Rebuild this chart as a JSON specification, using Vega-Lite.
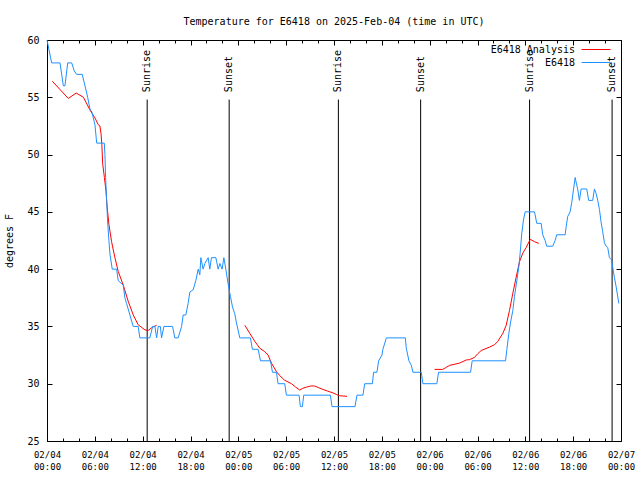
{
  "$schema": "https://vega.github.io/schema/vega-lite/v6.json",
  "width": 574,
  "height": 401,
  "autosize": "none",
  "padding": {"left": 47, "top": 40, "right": 19, "bottom": 39},
  "background": "white",
  "title": {"text": "Temperature for E6418 on 2025-Feb-04 (time in UTC)", "font": "DejaVu Sans Mono", "fontSize": 10, "fontWeight": "normal", "color": "black", "anchor": "middle", "frame": "group", "offset": 8},
  "datasets": {
    "blue": [
      {"t":"2025-02-04T00:00:00Z","v":60},{"t":"2025-02-04T00:35:00Z","v":58},{"t":"2025-02-04T01:38:00Z","v":58},{"t":"2025-02-04T02:03:00Z","v":56},{"t":"2025-02-04T02:15:00Z","v":56},{"t":"2025-02-04T02:36:00Z","v":58},{"t":"2025-02-04T03:06:00Z","v":58},{"t":"2025-02-04T03:25:00Z","v":57.3},{"t":"2025-02-04T03:43:00Z","v":57},{"t":"2025-02-04T04:25:00Z","v":57},{"t":"2025-02-04T04:46:00Z","v":56},{"t":"2025-02-04T05:06:00Z","v":55},{"t":"2025-02-04T05:23:00Z","v":54},{"t":"2025-02-04T05:38:00Z","v":53.7},{"t":"2025-02-04T06:01:00Z","v":52.6},{"t":"2025-02-04T06:14:00Z","v":51},{"t":"2025-02-04T07:11:00Z","v":51},{"t":"2025-02-04T07:16:00Z","v":50},{"t":"2025-02-04T07:21:00Z","v":48},{"t":"2025-02-04T07:29:00Z","v":46},{"t":"2025-02-04T07:36:00Z","v":44.2},{"t":"2025-02-04T07:46:00Z","v":42.5},{"t":"2025-02-04T07:54:00Z","v":41.3},{"t":"2025-02-04T08:11:00Z","v":40},{"t":"2025-02-04T08:44:00Z","v":40},{"t":"2025-02-04T08:56:00Z","v":39},{"t":"2025-02-04T09:34:00Z","v":38.6},{"t":"2025-02-04T09:46:00Z","v":37.5},{"t":"2025-02-04T09:59:00Z","v":37},{"t":"2025-02-04T10:24:00Z","v":36},{"t":"2025-02-04T10:49:00Z","v":35},{"t":"2025-02-04T11:26:00Z","v":35},{"t":"2025-02-04T11:39:00Z","v":34},{"t":"2025-02-04T12:54:00Z","v":34},{"t":"2025-02-04T13:15:00Z","v":35},{"t":"2025-02-04T13:32:00Z","v":35},{"t":"2025-02-04T13:45:00Z","v":34},{"t":"2025-02-04T13:57:00Z","v":35},{"t":"2025-02-04T14:13:00Z","v":35},{"t":"2025-02-04T14:22:00Z","v":34},{"t":"2025-02-04T14:40:00Z","v":35},{"t":"2025-02-04T15:45:00Z","v":35},{"t":"2025-02-04T16:02:00Z","v":34},{"t":"2025-02-04T16:27:00Z","v":34},{"t":"2025-02-04T16:53:00Z","v":35},{"t":"2025-02-04T17:05:00Z","v":36},{"t":"2025-02-04T17:25:00Z","v":36},{"t":"2025-02-04T17:42:00Z","v":37},{"t":"2025-02-04T17:55:00Z","v":38},{"t":"2025-02-04T18:20:00Z","v":38.2},{"t":"2025-02-04T18:40:00Z","v":39},{"t":"2025-02-04T18:58:00Z","v":40},{"t":"2025-02-04T19:10:00Z","v":39.5},{"t":"2025-02-04T19:18:00Z","v":41},{"t":"2025-02-04T19:35:00Z","v":40},{"t":"2025-02-04T19:48:00Z","v":40.5},{"t":"2025-02-04T20:13:00Z","v":41},{"t":"2025-02-04T20:25:00Z","v":40},{"t":"2025-02-04T20:38:00Z","v":41},{"t":"2025-02-04T21:11:00Z","v":41},{"t":"2025-02-04T21:28:00Z","v":40},{"t":"2025-02-04T21:41:00Z","v":40.5},{"t":"2025-02-04T21:58:00Z","v":40},{"t":"2025-02-04T22:11:00Z","v":41},{"t":"2025-02-04T22:26:00Z","v":40},{"t":"2025-02-04T22:35:00Z","v":39.3},{"t":"2025-02-04T22:51:00Z","v":38.2},{"t":"2025-02-04T23:01:00Z","v":37.6},{"t":"2025-02-04T23:16:00Z","v":36.7},{"t":"2025-02-04T23:33:00Z","v":36.1},{"t":"2025-02-04T23:46:00Z","v":35.3},
      {"t":"2025-02-05T00:11:00Z","v":34},{"t":"2025-02-05T01:31:00Z","v":34},{"t":"2025-02-05T01:46:00Z","v":33},{"t":"2025-02-05T02:29:00Z","v":33},{"t":"2025-02-05T02:47:00Z","v":32},{"t":"2025-02-05T04:02:00Z","v":32},{"t":"2025-02-05T04:17:00Z","v":31},{"t":"2025-02-05T04:47:00Z","v":31},{"t":"2025-02-05T04:59:00Z","v":30},{"t":"2025-02-05T05:49:00Z","v":30},{"t":"2025-02-05T06:02:00Z","v":29},{"t":"2025-02-05T07:37:00Z","v":29},{"t":"2025-02-05T07:47:00Z","v":28},{"t":"2025-02-05T08:02:00Z","v":28},{"t":"2025-02-05T08:12:00Z","v":29},{"t":"2025-02-05T11:33:00Z","v":29},{"t":"2025-02-05T11:45:00Z","v":28},{"t":"2025-02-05T14:38:00Z","v":28},{"t":"2025-02-05T14:53:00Z","v":29},{"t":"2025-02-05T15:38:00Z","v":29},{"t":"2025-02-05T15:51:00Z","v":30},{"t":"2025-02-05T16:49:00Z","v":30},{"t":"2025-02-05T16:58:00Z","v":31},{"t":"2025-02-05T17:23:00Z","v":31},{"t":"2025-02-05T17:36:00Z","v":32},{"t":"2025-02-05T18:01:00Z","v":32.5},{"t":"2025-02-05T18:08:00Z","v":33},{"t":"2025-02-05T18:34:00Z","v":34},{"t":"2025-02-05T20:57:00Z","v":34},{"t":"2025-02-05T21:04:00Z","v":33.1},{"t":"2025-02-05T21:24:00Z","v":32},{"t":"2025-02-05T21:42:00Z","v":31.6},{"t":"2025-02-05T21:54:00Z","v":31},{"t":"2025-02-05T22:57:00Z","v":31},{"t":"2025-02-05T23:09:00Z","v":30},
      {"t":"2025-02-06T00:54:00Z","v":30},{"t":"2025-02-06T01:07:00Z","v":31},{"t":"2025-02-06T05:08:00Z","v":31},{"t":"2025-02-06T05:20:00Z","v":32},{"t":"2025-02-06T09:31:00Z","v":32},{"t":"2025-02-06T09:41:00Z","v":33},{"t":"2025-02-06T09:56:00Z","v":34.4},{"t":"2025-02-06T10:08:00Z","v":35.3},{"t":"2025-02-06T10:26:00Z","v":36.4},{"t":"2025-02-06T10:38:00Z","v":37.6},{"t":"2025-02-06T10:56:00Z","v":39},{"t":"2025-02-06T11:11:00Z","v":40.2},{"t":"2025-02-06T11:21:00Z","v":41.4},{"t":"2025-02-06T11:33:00Z","v":43.1},{"t":"2025-02-06T11:46:00Z","v":44.3},{"t":"2025-02-06T11:59:00Z","v":45},{"t":"2025-02-06T13:09:00Z","v":45},{"t":"2025-02-06T13:26:00Z","v":44},{"t":"2025-02-06T13:59:00Z","v":44},{"t":"2025-02-06T14:11:00Z","v":43},{"t":"2025-02-06T14:29:00Z","v":42.5},{"t":"2025-02-06T14:41:00Z","v":42},{"t":"2025-02-06T15:26:00Z","v":42},{"t":"2025-02-06T15:44:00Z","v":42.5},{"t":"2025-02-06T15:56:00Z","v":43},{"t":"2025-02-06T17:00:00Z","v":43},{"t":"2025-02-06T17:07:00Z","v":43.7},{"t":"2025-02-06T17:19:00Z","v":44.6},{"t":"2025-02-06T17:37:00Z","v":45},{"t":"2025-02-06T17:49:00Z","v":45.8},{"t":"2025-02-06T18:02:00Z","v":46.9},{"t":"2025-02-06T18:15:00Z","v":48},{"t":"2025-02-06T18:22:00Z","v":47.6},{"t":"2025-02-06T18:34:00Z","v":47},{"t":"2025-02-06T18:47:00Z","v":46},{"t":"2025-02-06T19:00:00Z","v":47},{"t":"2025-02-06T19:42:00Z","v":47},{"t":"2025-02-06T19:57:00Z","v":46},{"t":"2025-02-06T20:27:00Z","v":46},{"t":"2025-02-06T20:40:00Z","v":47},{"t":"2025-02-06T20:53:00Z","v":46.6},{"t":"2025-02-06T21:05:00Z","v":46},{"t":"2025-02-06T21:18:00Z","v":45.2},{"t":"2025-02-06T21:30:00Z","v":44.1},{"t":"2025-02-06T21:42:00Z","v":43.3},{"t":"2025-02-06T21:55:00Z","v":42.3},{"t":"2025-02-06T22:08:00Z","v":42},{"t":"2025-02-06T22:20:00Z","v":41.9},{"t":"2025-02-06T22:33:00Z","v":41},{"t":"2025-02-06T22:50:00Z","v":40.8},{"t":"2025-02-06T22:57:00Z","v":40.2},{"t":"2025-02-06T23:10:00Z","v":39.3},{"t":"2025-02-06T23:23:00Z","v":38.5},{"t":"2025-02-06T23:44:00Z","v":37}
    ],
    "red": [
      {"s":1,"t":"2025-02-04T00:40:00Z","v":56.4},{"s":1,"t":"2025-02-04T02:40:00Z","v":54.9},{"s":1,"t":"2025-02-04T03:40:00Z","v":55.37},{"s":1,"t":"2025-02-04T04:34:00Z","v":55.0},{"s":1,"t":"2025-02-04T05:23:00Z","v":53.9},{"s":1,"t":"2025-02-04T06:01:00Z","v":53.2},{"s":1,"t":"2025-02-04T06:26:00Z","v":52.6},{"s":1,"t":"2025-02-04T06:38:00Z","v":52.5},{"s":1,"t":"2025-02-04T06:47:00Z","v":51.8},{"s":1,"t":"2025-02-04T06:53:00Z","v":50.8},{"s":1,"t":"2025-02-04T06:59:00Z","v":49.2},{"s":1,"t":"2025-02-04T07:12:00Z","v":48},{"s":1,"t":"2025-02-04T07:24:00Z","v":46.8},{"s":1,"t":"2025-02-04T07:31:00Z","v":45.6},{"s":1,"t":"2025-02-04T07:46:00Z","v":43.9},{"s":1,"t":"2025-02-04T08:06:00Z","v":42.4},{"s":1,"t":"2025-02-04T08:31:00Z","v":41},{"s":1,"t":"2025-02-04T08:56:00Z","v":39.8},{"s":1,"t":"2025-02-04T09:34:00Z","v":38.6},{"s":1,"t":"2025-02-04T10:11:00Z","v":37.2},{"s":1,"t":"2025-02-04T10:49:00Z","v":36},{"s":1,"t":"2025-02-04T11:26:00Z","v":35.15},{"s":1,"t":"2025-02-04T11:54:00Z","v":34.9},{"s":1,"t":"2025-02-04T12:17:00Z","v":34.7},{"s":1,"t":"2025-02-04T12:42:00Z","v":34.65},{"s":1,"t":"2025-02-04T13:09:00Z","v":34.9},{"s":1,"t":"2025-02-04T13:45:00Z","v":35.1},
      {"s":2,"t":"2025-02-05T00:49:00Z","v":35.1},{"s":2,"t":"2025-02-05T01:26:00Z","v":34.4},{"s":2,"t":"2025-02-05T02:04:00Z","v":33.7},{"s":2,"t":"2025-02-05T02:41:00Z","v":33.1},{"s":2,"t":"2025-02-05T03:19:00Z","v":32.8},{"s":2,"t":"2025-02-05T03:44:00Z","v":32.5},{"s":2,"t":"2025-02-05T04:09:00Z","v":31.8},{"s":2,"t":"2025-02-05T04:47:00Z","v":31.05},{"s":2,"t":"2025-02-05T05:12:00Z","v":30.7},{"s":2,"t":"2025-02-05T05:49:00Z","v":30.3},{"s":2,"t":"2025-02-05T06:40:00Z","v":30.0},{"s":2,"t":"2025-02-05T07:12:00Z","v":29.7},{"s":2,"t":"2025-02-05T07:42:00Z","v":29.45},{"s":2,"t":"2025-02-05T08:05:00Z","v":29.6},{"s":2,"t":"2025-02-05T08:32:00Z","v":29.7},{"s":2,"t":"2025-02-05T09:05:00Z","v":29.8},{"s":2,"t":"2025-02-05T09:35:00Z","v":29.8},{"s":2,"t":"2025-02-05T10:05:00Z","v":29.65},{"s":2,"t":"2025-02-05T10:37:00Z","v":29.5},{"s":2,"t":"2025-02-05T11:13:00Z","v":29.35},{"s":2,"t":"2025-02-05T11:52:00Z","v":29.2},{"s":2,"t":"2025-02-05T12:20:00Z","v":29.05},{"s":2,"t":"2025-02-05T12:43:00Z","v":28.95},{"s":2,"t":"2025-02-05T13:38:00Z","v":28.9},
      {"s":3,"t":"2025-02-06T00:37:00Z","v":31.25},{"s":3,"t":"2025-02-06T01:39:00Z","v":31.25},{"s":3,"t":"2025-02-06T02:00:00Z","v":31.4},{"s":3,"t":"2025-02-06T02:30:00Z","v":31.6},{"s":3,"t":"2025-02-06T03:45:00Z","v":31.8},{"s":3,"t":"2025-02-06T04:35:00Z","v":32.07},{"s":3,"t":"2025-02-06T05:00:00Z","v":32.1},{"s":3,"t":"2025-02-06T05:38:00Z","v":32.3},{"s":3,"t":"2025-02-06T06:00:00Z","v":32.6},{"s":3,"t":"2025-02-06T06:28:00Z","v":32.9},{"s":3,"t":"2025-02-06T07:31:00Z","v":33.2},{"s":3,"t":"2025-02-06T08:08:00Z","v":33.4},{"s":3,"t":"2025-02-06T08:33:00Z","v":33.7},{"s":3,"t":"2025-02-06T09:11:00Z","v":34.4},{"s":3,"t":"2025-02-06T09:36:00Z","v":35.1},{"s":3,"t":"2025-02-06T10:01:00Z","v":36.4},{"s":3,"t":"2025-02-06T10:26:00Z","v":37.9},{"s":3,"t":"2025-02-06T10:51:00Z","v":39.3},{"s":3,"t":"2025-02-06T11:16:00Z","v":40.65},{"s":3,"t":"2025-02-06T11:41:00Z","v":41.4},{"s":3,"t":"2025-02-06T12:07:00Z","v":41.9},{"s":3,"t":"2025-02-06T12:37:00Z","v":42.6},{"s":3,"t":"2025-02-06T13:09:00Z","v":42.4},{"s":3,"t":"2025-02-06T13:41:00Z","v":42.25}
    ],
    "events": [
      {"t":"2025-02-04T12:34:00Z","label":"Sunrise"},{"t":"2025-02-04T22:51:00Z","label":"Sunset"},
      {"t":"2025-02-05T12:33:00Z","label":"Sunrise"},{"t":"2025-02-05T22:52:00Z","label":"Sunset"},
      {"t":"2025-02-06T12:32:00Z","label":"Sunrise"},{"t":"2025-02-06T22:53:00Z","label":"Sunset"}
    ]
  },
  "layer": [
    {
      "data": {"name": "events"},
      "mark": {"type": "rule", "color": "black", "strokeWidth": 1},
      "encoding": {
        "x": {"field": "t", "type": "temporal",
          "axis": {"orient": "bottom", "offset": -3, "values": [1738627200000,1738634400000,1738641600000,1738648800000,1738656000000,1738663200000,1738670400000,1738677600000,1738684800000,1738692000000,1738699200000,1738706400000,1738713600000,1738720800000,1738728000000,1738735200000,1738742400000,1738749600000,1738756800000,1738764000000,1738771200000,1738778400000,1738785600000,1738792800000,1738800000000,1738807200000,1738814400000,1738821600000,1738828800000,1738836000000,1738843200000,1738850400000,1738857600000,1738864800000,1738872000000,1738879200000,1738886400000], "labels": false, "domain": false, "grid": false, "tickSize": 3, "title": null, "tickColor": "black"}},
        "y": {"datum": 54.8, "type": "quantitative", "axis": null},
        "y2": {"datum": 25}
      }
    },
    {
      "data": {"name": "events"},
      "mark": {"type": "text", "angle": 270, "align": "left", "baseline": "middle", "font": "DejaVu Sans Mono", "fontSize": 10, "color": "black"},
      "encoding": {
        "x": {"field": "t", "type": "temporal",
          "axis": {"orient": "top", "offset": -3, "values": [1738627200000,1738634400000,1738641600000,1738648800000,1738656000000,1738663200000,1738670400000,1738677600000,1738684800000,1738692000000,1738699200000,1738706400000,1738713600000,1738720800000,1738728000000,1738735200000,1738742400000,1738749600000,1738756800000,1738764000000,1738771200000,1738778400000,1738785600000,1738792800000,1738800000000,1738807200000,1738814400000,1738821600000,1738828800000,1738836000000,1738843200000,1738850400000,1738857600000,1738864800000,1738872000000,1738879200000,1738886400000], "labels": false, "domain": false, "grid": false, "tickSize": 3, "title": null, "tickColor": "black"}},
        "y": {"datum": 55.45, "type": "quantitative", "axis": null},
        "text": {"field": "label"}
      }
    },
    {
      "data": {"name": "red"},
      "mark": {"type": "line", "strokeWidth": 1, "interpolate": "linear"},
      "encoding": {
        "x": {"field": "t", "type": "temporal",
          "axis": {"orient": "top", "offset": -5, "values": [1738627200000,1738648800000,1738670400000,1738692000000,1738713600000,1738735200000,1738756800000,1738778400000,1738800000000,1738821600000,1738843200000,1738864800000,1738886400000], "labels": false, "domain": false, "grid": false, "tickSize": 5, "title": null, "tickColor": "black"}},
        "y": {"field": "v", "type": "quantitative",
          "axis": {"orient": "right", "offset": -5, "values": [25,30,35,40,45,50,55,60], "labels": false, "domain": false, "grid": false, "tickSize": 5, "title": null, "tickColor": "black"}},
        "detail": {"field": "s", "type": "nominal"},
        "color": {"datum": "E6418 Analysis", "type": "nominal",
          "scale": {"domain": ["E6418 Analysis", "E6418"], "range": ["#ff0000", "#1e90ff"]},
          "legend": {"orient": "none", "legendX": 541, "legendY": 1.5, "padding": 0, "title": null, "symbolType": "M-1.93,0H1.93", "symbolSize": 225, "symbolStrokeWidth": 1, "symbolFillColor": "transparent", "rowPadding": 0, "labelAlign": "right", "labelOffset": -29, "labelFont": "DejaVu Sans Mono", "labelFontSize": 10, "labelColor": "black"}}
      }
    },
    {
      "data": {"name": "blue"},
      "mark": {"type": "line", "strokeWidth": 1, "interpolate": "linear"},
      "encoding": {
        "x": {"field": "t", "type": "temporal",
          "scale": {"type": "utc", "domain": [1738627200000, 1738886400000], "nice": false},
          "axis": {"orient": "bottom", "offset": -5, "values": [1738627200000,1738648800000,1738670400000,1738692000000,1738713600000,1738735200000,1738756800000,1738778400000,1738800000000,1738821600000,1738843200000,1738864800000,1738886400000], "labelExpr": "[utcFormat(datum.value, '%m/%d'), utcFormat(datum.value, '%H:%M')]", "labelFlush": false, "labelOverlap": false, "labelPadding": 9, "labelLineHeight": 12, "domain": false, "grid": false, "tickSize": 5, "title": null, "tickColor": "black", "labelFont": "DejaVu Sans Mono", "labelFontSize": 9, "labelColor": "black"}},
        "y": {"field": "v", "type": "quantitative",
          "scale": {"domain": [25, 60], "nice": false, "zero": false},
          "axis": {"orient": "left", "offset": -5, "values": [25,30,35,40,45,50,55,60], "domain": false, "grid": false, "tickSize": 5, "labelPadding": 8, "tickColor": "black", "labelFont": "DejaVu Sans Mono", "labelFontSize": 10, "labelColor": "black", "title": "degrees F", "titleFont": "DejaVu Sans Mono", "titleFontSize": 10, "titleFontWeight": "normal", "titleColor": "black", "titlePadding": 12}},
        "color": {"datum": "E6418", "type": "nominal"}
      }
    }
  ],
  "resolve": {"axis": {"x": "independent", "y": "independent"}},
  "config": {
    "view": {"stroke": "black", "strokeWidth": 1},
    "font": "DejaVu Sans Mono"
  }
}
